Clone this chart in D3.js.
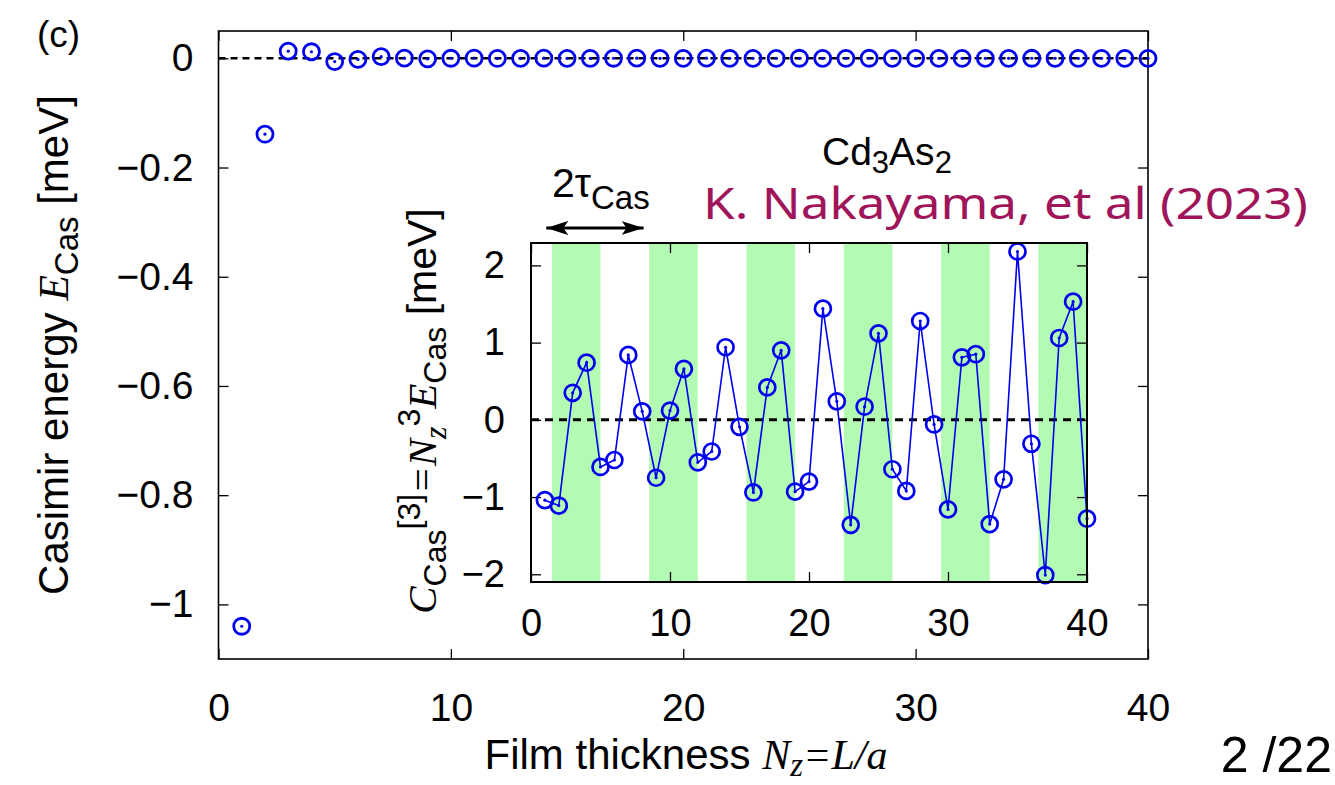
<!DOCTYPE html>
<html>
<head>
<meta charset="utf-8">
<script src="https://cdn.jsdelivr.net/npm/d3@7"></script>
<style>
  body { margin: 0; background: #fff; }
  svg { display: block; }
  text { font-family: "Liberation Sans", Arial, Helvetica, sans-serif; fill: #000; }
  .it { font-family: "Liberation Serif", "Times New Roman", serif; font-style: italic; }
</style>
</head>
<body>
<svg id="chart" width="1335" height="785"></svg>
<script>
// Film thickness N_z (layers)
const thickness = [1, 2, 3, 4, 5, 6, 7, 8, 9, 10, 11, 12, 13, 14, 15, 16, 17, 18, 19, 20,
                   21, 22, 23, 24, 25, 26, 27, 28, 29, 30, 31, 32, 33, 34, 35, 36, 37, 38, 39, 40];

// Casimir energy E_Cas [meV]
const casimirEnergy = [-1.04, -0.139, 0.013, 0.012, -0.006, -0.002, 0.003, 0.0002, -0.001, 0.0001,
                       0.0005, -0.0003, -0.0002, 0.0003, 0.0, -0.0002, 0.0001, 0.0002, -0.0001, -0.0001,
                       0.0002, 0.0, -0.0001, 0.0, 0.0001, 0.0, 0.0, 0.0001, 0.0, 0.0,
                       0.0, 0.0, 0.0, 0.0, 0.0001, 0.0, 0.0, 0.0, 0.0, 0.0];

// Casimir coefficient C_Cas^[3] = N_z^3 E_Cas [meV]
const casimirCoeff = [-1.04, -1.11, 0.35, 0.74, -0.61, -0.52, 0.84, 0.11, -0.75, 0.12,
                      0.66, -0.55, -0.41, 0.94, -0.09, -0.94, 0.42, 0.90, -0.93, -0.80,
                      1.44, 0.24, -1.36, 0.17, 1.12, -0.64, -0.92, 1.28, -0.06, -1.16,
                      0.81, 0.85, -1.35, -0.77, 2.18, -0.31, -2.01, 1.06, 1.53, -1.28];

// Shaded half-periods of the oscillation (period 2τ_Cas = 7)
const bandStart = [1.5, 8.5, 15.5, 22.5, 29.5, 36.5];
const bandEnd   = [5.0, 12.0, 19.0, 26.0, 33.0, 40.0];
const periodArrow = [1.1, 8.1];

// Tick values and labels
const mainXTicks = [0, 10, 20, 30, 40];
const mainYTicks = [0, -0.2, -0.4, -0.6, -0.8, -1];
const mainYLabels = ["0", "\u22120.2", "\u22120.4", "\u22120.6", "\u22120.8", "\u22121"];
const insetXTicks = [0, 10, 20, 30, 40];
const insetYTicks = [-2, -1, 0, 1, 2];
const insetYLabels = ["\u22122", "\u22121", "0", "1", "2"];

const svg = d3.select("#chart");
const BLUE = "#0000f0";

// ---------- main panel ----------
const x = d3.scaleLinear().domain([0, 40]).range([218.5, 1148]);
const y = d3.scaleLinear().domain([-1.1, 0.05]).range([659, 31]);

function styleAxis(g, size) {
  g.select(".domain").remove();
  g.selectAll(".tick line").attr("stroke", "#000").attr("stroke-width", 1.3);
  g.selectAll(".tick text").style("font-size", size + "px")
    .style("font-family", '"Liberation Sans", Arial, sans-serif').attr("fill", "#000");
}

const main = svg.append("g");
main.append("g").attr("transform", `translate(${x.range()[0]},0)`)
  .call(d3.axisLeft(y).tickValues(mainYTicks).tickFormat((d, i) => mainYLabels[i])
        .tickSizeInner(-10).tickSizeOuter(0).tickPadding(25))
  .call(styleAxis, 39);
main.append("g").attr("transform", `translate(${x.range()[1]},0)`)
  .call(d3.axisRight(y).tickValues(mainYTicks).tickFormat("").tickSizeInner(-10).tickSizeOuter(0))
  .call(styleAxis, 39);
main.append("g").attr("transform", `translate(0,${y.range()[0]})`)
  .call(d3.axisBottom(x).tickValues(mainXTicks).tickSizeInner(-10).tickSizeOuter(0).tickPadding(34))
  .call(styleAxis, 39);
main.append("g").attr("transform", `translate(0,${y.range()[1]})`)
  .call(d3.axisTop(x).tickValues(mainXTicks).tickFormat("").tickSizeInner(-10).tickSizeOuter(0))
  .call(styleAxis, 39);

main.append("rect")
  .attr("x", x.range()[0]).attr("y", y.range()[1])
  .attr("width", x.range()[1] - x.range()[0]).attr("height", y.range()[0] - y.range()[1])
  .attr("fill", "none").attr("stroke", "#000").attr("stroke-width", 1.6);

main.append("line")
  .attr("x1", x(0)).attr("x2", x(40)).attr("y1", y(0)).attr("y2", y(0))
  .attr("stroke", "#000").attr("stroke-width", 2.4).attr("stroke-dasharray", "7,5");

const mainPts = main.append("g").selectAll("g").data(thickness).join("g")
  .attr("transform", (d, i) => `translate(${x(d)},${y(casimirEnergy[i])})`);
mainPts.append("circle").attr("r", 8).attr("fill", "none").attr("stroke", BLUE).attr("stroke-width", 2.8);
mainPts.append("circle").attr("r", 1.6).attr("fill", BLUE);

// ---------- inset ----------
const xi = d3.scaleLinear().domain([0, 40]).range([531, 1087]);
const yi = d3.scaleLinear().domain([-2.1, 2.29]).range([582, 243]);

const inset = svg.append("g");
inset.append("rect")
  .attr("x", xi.range()[0]).attr("y", yi.range()[1])
  .attr("width", xi.range()[1] - xi.range()[0]).attr("height", yi.range()[0] - yi.range()[1])
  .attr("fill", "#fff");

inset.append("g").selectAll("rect").data(bandStart).join("rect")
  .attr("x", d => xi(d)).attr("y", yi.range()[1])
  .attr("width", (d, i) => xi(Math.min(bandEnd[i], 40)) - xi(d))
  .attr("height", yi.range()[0] - yi.range()[1])
  .attr("fill", "#b3fab3");

inset.append("line")
  .attr("x1", xi(0)).attr("x2", xi(40)).attr("y1", yi(0)).attr("y2", yi(0))
  .attr("stroke", "#000").attr("stroke-width", 3).attr("stroke-dasharray", "8,6");

inset.append("g").attr("transform", `translate(${xi.range()[0]},0)`)
  .call(d3.axisLeft(yi).tickValues(insetYTicks).tickFormat((d, i) => insetYLabels[i])
        .tickSizeInner(-10).tickSizeOuter(0).tickPadding(26))
  .call(styleAxis, 38);
inset.append("g").attr("transform", `translate(${xi.range()[1]},0)`)
  .call(d3.axisRight(yi).tickValues(insetYTicks).tickFormat("").tickSizeInner(-10).tickSizeOuter(0))
  .call(styleAxis, 38);
inset.append("g").attr("transform", `translate(0,${yi.range()[0]})`)
  .call(d3.axisBottom(xi).tickValues(insetXTicks).tickSizeInner(-10).tickSizeOuter(0).tickPadding(27))
  .call(styleAxis, 38);
inset.append("g").attr("transform", `translate(0,${yi.range()[1]})`)
  .call(d3.axisTop(xi).tickValues(insetXTicks).tickFormat("").tickSizeInner(-10).tickSizeOuter(0))
  .call(styleAxis, 38);

inset.append("path")
  .datum(thickness)
  .attr("d", d3.line().x(d => xi(d)).y((d, i) => yi(casimirCoeff[i])))
  .attr("fill", "none").attr("stroke", BLUE).attr("stroke-width", 1.6);

const insetPts = inset.append("g").selectAll("g").data(thickness).join("g")
  .attr("transform", (d, i) => `translate(${xi(d)},${yi(casimirCoeff[i])})`);
insetPts.append("circle").attr("r", 8).attr("fill", "none").attr("stroke", BLUE).attr("stroke-width", 2.7);
insetPts.append("circle").attr("r", 1.6).attr("fill", BLUE);

inset.append("rect")
  .attr("x", xi.range()[0]).attr("y", yi.range()[1])
  .attr("width", xi.range()[1] - xi.range()[0]).attr("height", yi.range()[0] - yi.range()[1])
  .attr("fill", "none").attr("stroke", "#000").attr("stroke-width", 2);

// period arrow
const defs = svg.append("defs");
["arrEnd", "arrStart"].forEach((id, k) => {
  defs.append("marker").attr("id", id)
    .attr("viewBox", "0 0 22 14").attr("refX", k === 0 ? 22 : 0).attr("refY", 7)
    .attr("markerWidth", 22).attr("markerHeight", 14).attr("markerUnits", "userSpaceOnUse")
    .attr("orient", "auto")
    .append("path")
    .attr("d", k === 0 ? "M0,0 L22,7 L0,14 L5,7 Z" : "M22,0 L0,7 L22,14 L17,7 Z")
    .attr("fill", "#000");
});
svg.append("line")
  .attr("x1", xi(periodArrow[0])).attr("x2", xi(periodArrow[1]))
  .attr("y1", 228).attr("y2", 228)
  .attr("stroke", "#000").attr("stroke-width", 3)
  .attr("marker-start", "url(#arrStart)").attr("marker-end", "url(#arrEnd)");

const tau = svg.append("text").attr("x", 552).attr("y", 197).style("font-size", "41px");
tau.append("tspan").text("2\u03c4");
tau.append("tspan").attr("dy", 12).style("font-size", "33px").text("Cas");

const mat = svg.append("text").attr("x", 822).attr("y", 165).style("font-size", "39px");
mat.append("tspan").text("Cd");
mat.append("tspan").attr("dy", 8).style("font-size", "31px").text("3");
mat.append("tspan").attr("dy", -8).text("As");
mat.append("tspan").attr("dy", 8).style("font-size", "31px").text("2");

svg.append("text").attr("x", 703).attr("y", 219)
  .attr("textLength", 605).attr("lengthAdjust", "spacingAndGlyphs")
  .style("font-family", '"Noto Sans", "Open Sans", sans-serif')
  .style("font-size", "43px").style("fill", "#a0155a")
  .text("K. Nakayama, et al (2023)");

// inset y label
const iyl = svg.append("text")
  .attr("transform", "translate(436,411) rotate(-90)")
  .attr("text-anchor", "middle").style("font-size", "41px");
iyl.append("tspan").attr("class", "it").text("C");
iyl.append("tspan").attr("dy", 10).style("font-size", "32px").text("Cas");
iyl.append("tspan").attr("dy", -26).style("font-size", "32px").text("[3]");
iyl.append("tspan").attr("dy", 16).attr("class", "it").text("=N");
iyl.append("tspan").attr("dy", 10).attr("class", "it").style("font-size", "32px").text("z");
iyl.append("tspan").attr("dy", -26).style("font-size", "32px").text("3");
iyl.append("tspan").attr("dy", 16).attr("class", "it").text("E");
iyl.append("tspan").attr("dy", 10).style("font-size", "32px").text("Cas");
iyl.append("tspan").attr("dy", -10).text(" [meV]");

// main axis titles
const myl = svg.append("text")
  .attr("transform", "translate(68,345) rotate(-90)")
  .attr("text-anchor", "middle").style("font-size", "42px");
myl.append("tspan").text("Casimir energy ");
myl.append("tspan").attr("class", "it").text("E");
myl.append("tspan").attr("dy", 10).style("font-size", "33px").text("Cas");
myl.append("tspan").attr("dy", -10).text(" [meV]");

const mxl = svg.append("text").attr("x", 686).attr("y", 769)
  .attr("text-anchor", "middle").style("font-size", "42px");
mxl.append("tspan").text("Film thickness ");
mxl.append("tspan").attr("class", "it").text("N");
mxl.append("tspan").attr("dy", 7).attr("class", "it").style("font-size", "33px").text("z");
mxl.append("tspan").attr("dy", -7).attr("class", "it").text("=L/a");

svg.append("text").attr("x", 37).attr("y", 47).style("font-size", "37px").text("(c)");

svg.append("text").attr("x", 1332).attr("y", 772).attr("text-anchor", "end")
  .style("font-size", "50px").text("2 /22");
</script>
</body>
</html>
